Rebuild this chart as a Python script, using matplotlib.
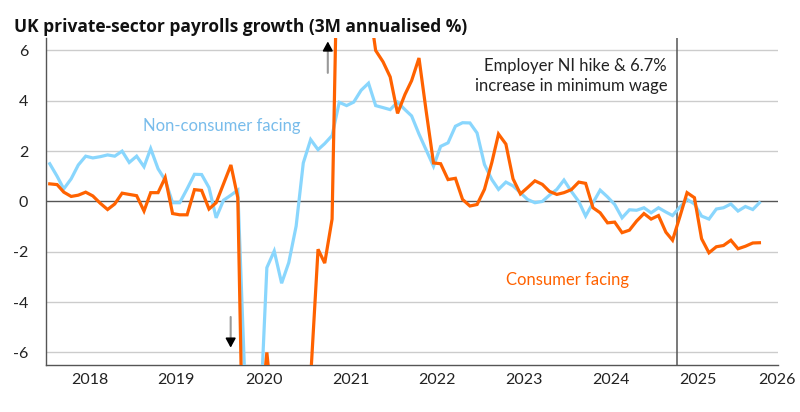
import numpy as np
import pandas as pd
import matplotlib
matplotlib.use("Agg")
import matplotlib.pyplot as plt

plt.rcParams["font.family"] = ["Lato", "DejaVu Sans"]

# Monthly data, Jan 2018 - Mar 2026 (points plotted mid-month)
dates = pd.date_range("2018-01-01", periods=99, freq="MS") + pd.Timedelta(days=14)

non_consumer = [
    1.5, 1.0, 0.5, 0.9, 1.45, 1.8, 1.73, 1.78, 1.85, 1.8, 2.0, 1.55,
    1.8, 1.38, 2.1, 1.3, 0.85, -0.05, -0.05, 0.5, 1.08, 1.07, 0.55, -0.65,
    0.05, 0.25, 0.45, -7.5, -14.0, -9.0, -2.63, -1.97, -3.25, -2.43, -0.98, 1.53,
    2.46, 2.06, 2.3, 2.62, 3.94, 3.81, 3.95, 4.42, 4.7, 3.81, 3.73, 3.65,
    3.95, 3.65, 3.4, 2.68, 2.05, 1.4, 2.19, 2.33, 2.99, 3.13, 3.12, 2.72,
    1.47, 0.87, 0.48, 0.77, 0.62, 0.35, 0.08, -0.05, 0.0, 0.25, 0.48, 0.85,
    0.4, 0.0, -0.58, -0.05, 0.45, 0.18, -0.12, -0.65, -0.33, -0.35, -0.25, -0.45,
    -0.25, -0.42, -0.56, -0.22, 0.08, -0.1, -0.58, -0.7, -0.3, -0.25, -0.1, -0.38,
    -0.2, -0.32, -0.05,
]

consumer = [
    0.7, 0.67, 0.37, 0.2, 0.25, 0.37, 0.22, -0.07, -0.32, -0.1, 0.33, 0.28,
    0.23, -0.38, 0.35, 0.35, 0.95, -0.48, -0.53, -0.53, 0.47, 0.44, -0.3, -0.05,
    0.7, 1.45, 0.15, -15.0, -20.0, -9.0, -6.0, -9.0, -11.0, -12.0, -10.0, -9.0,
    -7.0, -1.9, -2.45, -0.7, 14.0, 18.0, 16.0, 12.0, 8.0, 6.0, 5.55, 4.95,
    3.5, 4.25, 4.8, 5.7, 3.6, 1.53, 1.5, 0.87, 0.92, 0.08, -0.18, -0.12,
    0.48, 1.55, 2.68, 2.28, 0.9, 0.3, 0.55, 0.82, 0.68, 0.4, 0.28, 0.35,
    0.47, 0.77, 0.72, -0.25, -0.45, -0.85, -0.82, -1.24, -1.14, -0.78, -0.48, -0.7,
    -0.56, -1.22, -1.54, -0.6, 0.35, 0.15, -1.48, -2.04, -1.8, -1.75, -1.54, -1.88,
    -1.78, -1.65, -1.64,
]

year_labels = ["2018", "2019", "2020", "2021", "2022", "2023", "2024", "2025", "2026"]
y_ticks = [-6, -4, -2, 0, 2, 4, 6]
policy_date = pd.Timestamp("2025-04-01")

orange = "#FF6200"
blue = "#89D6FD"
blue_text = "#78BCEB"
dark = "#555555"

fig = plt.figure(figsize=(8, 4.12), dpi=100)
ax = fig.add_axes([0.058, 0.114, 0.9145, 0.794])

ax.set_ylim(-6.5, 6.5)
ax.set_xlim(pd.Timestamp("2018-01-01"), pd.Timestamp("2026-06-01"))

# grid and reference lines
for yv in y_ticks:
    if yv != 0:
        ax.axhline(yv, color="#cccccc", lw=1.0, zorder=0)
ax.axhline(0, color=dark, lw=1.0, zorder=1)
ax.axvline(policy_date, color=dark, lw=1.1, zorder=1)

ax.plot(dates, non_consumer, color=blue, lw=2.3, zorder=3, solid_joinstyle="miter")
ax.plot(dates, consumer, color=orange, lw=2.3, zorder=4, solid_joinstyle="miter")

# ticks
tick_pos = [pd.Timestamp(f"{y}-07-01") for y in range(2018, 2026)] + [pd.Timestamp("2026-05-29")]
ax.set_xticks(tick_pos)
ax.set_xticklabels(year_labels)
ax.set_yticks(y_ticks)
ax.set_yticklabels([str(v) for v in y_ticks])
ax.tick_params(axis="y", length=0, pad=13, labelsize=11.5, colors="#222222")
ax.tick_params(axis="x", length=0, pad=6, labelsize=11.5, colors="#222222")

for side in ["top", "right"]:
    ax.spines[side].set_visible(False)
for side in ["left", "bottom"]:
    ax.spines[side].set_color(dark)
    ax.spines[side].set_linewidth(1.0)

# labels
ax.text(pd.Timestamp("2019-02-12"), 2.82, "Non-consumer facing", color=blue_text,
        fontsize=12, va="baseline", ha="left")
ax.text(pd.Timestamp("2023-04-15"), -3.33, "Consumer facing", color=orange,
        fontsize=12, va="baseline", ha="left")
ax.text(pd.Timestamp("2025-02-20"), 5.2, "Employer NI hike & 6.7%", color="#222222",
        fontsize=12, va="baseline", ha="right")
ax.text(pd.Timestamp("2025-02-24"), 4.38, "increase in minimum wage", color="#222222",
        fontsize=12, va="baseline", ha="right")

# off-scale arrows
up_x = pd.Timestamp("2021-03-28")
ax.annotate("", xy=(up_x, 6.2), xytext=(up_x, 5.0),
            arrowprops=dict(arrowstyle="-", color="#999999", lw=1.5))
ax.annotate("", xy=(up_x, 6.47), xytext=(up_x, 6.0),
            arrowprops=dict(arrowstyle="-|>,head_length=0.55,head_width=0.3",
                            color="black", lw=1.2), annotation_clip=False)
down_x = pd.Timestamp("2020-02-14")
ax.annotate("", xy=(down_x, -5.6), xytext=(down_x, -4.48),
            arrowprops=dict(arrowstyle="-", color="#999999", lw=1.5))
ax.annotate("", xy=(down_x, -5.92), xytext=(down_x, -5.4),
            arrowprops=dict(arrowstyle="-|>,head_length=0.55,head_width=0.3",
                            color="black", lw=1.2))

fig.text(0.0175, 1 - 32 / 412, "UK private-sector payrolls growth (3M annualised %)",
         fontsize=12.5, fontweight="bold", family=["Open Sans", "DejaVu Sans"],
         color="#111111", va="baseline", ha="left")

fig.savefig("out.png", dpi=100)
